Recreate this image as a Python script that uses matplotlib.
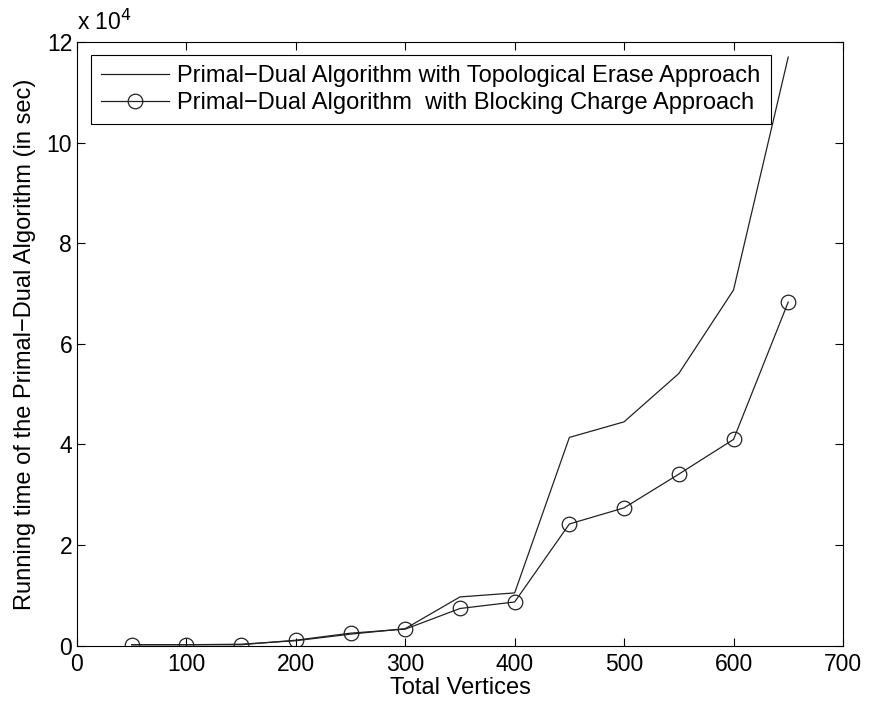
import numpy as np
import matplotlib.pyplot as plt
from matplotlib.ticker import FuncFormatter

plt.rcParams['font.family'] = ['Liberation Sans', 'DejaVu Sans']
plt.rcParams['font.size'] = 17

# Running times in seconds
vertices = [50, 100, 150, 200, 250, 300, 350, 400, 450, 500, 550, 600, 650]
erase_time = [200, 200, 300, 1000, 2300, 3400, 9700, 10500, 41400, 44500,
              54100, 70700, 117000]
blocking_time = [200, 200, 200, 1100, 2500, 3300, 7400, 8700, 24200, 27400,
                 34100, 41000, 68300]

fig = plt.figure(figsize=(8.69, 7.11), dpi=100)
ax = fig.add_axes([0.0886, 0.0918, 0.8814, 0.8492])

ax.plot(vertices, erase_time, color='#222222', lw=0.9,
        label='Primal\u2212Dual Algorithm with Topological Erase Approach')
ax.plot(vertices, blocking_time, color='#222222', lw=0.9, marker='o',
        markersize=10.5, markerfacecolor='none', markeredgewidth=0.9,
        label='Primal\u2212Dual Algorithm  with Blocking Charge Approach')

ax.set_xlim(0, 700)
ax.set_ylim(0, 120000)
ax.set_xticks(range(0, 701, 100))
ax.set_yticks(range(0, 120001, 20000))
ax.yaxis.set_major_formatter(FuncFormatter(lambda v, p: '%d' % round(v / 1e4)))
ax.tick_params(direction='in', top=True, right=True, length=6, width=0.8,
               labelsize=16.5)
ax.tick_params(axis='x', pad=5)
for s in ax.spines.values():
    s.set_linewidth(0.8)

ax.text(0.0, 1.012, 'x 10$^4$', transform=ax.transAxes, fontsize=16.5,
        ha='left', va='bottom')

ax.set_xlabel('Total Vertices', fontsize=17, labelpad=1)
ax.set_ylabel('Running time of the Primal\u2212Dual Algorithm (in sec)',
              fontsize=17, labelpad=8)

leg = ax.legend(loc='upper left', bbox_to_anchor=(0.018, 0.978), fontsize=17,
                fancybox=False, framealpha=1, edgecolor='black',
                borderpad=0.42, handlelength=2.9, handletextpad=0.35,
                labelspacing=0.22, borderaxespad=0)
leg.get_frame().set_linewidth(0.8)

fig.savefig('out.png', dpi=100)
